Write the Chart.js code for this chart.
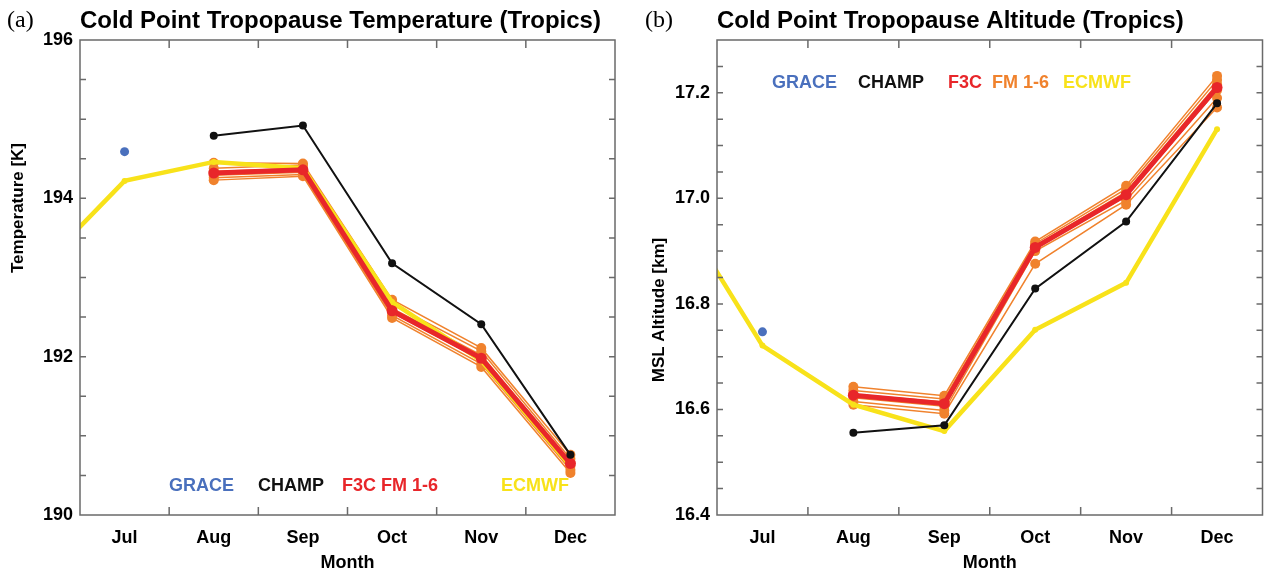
<!DOCTYPE html>
<html>
<head>
<meta charset="utf-8">
<script src="https://cdn.jsdelivr.net/npm/chart.js@4.4.1/dist/chart.umd.min.js"></script>
<style>
  html, body { margin: 0; padding: 0; background: #fff; }
  #wrap { position: relative; width: 1268px; height: 572px; }
  canvas { position: absolute; top: 0; }
  #tempChart { left: 0; }
  #altChart { left: 634px; }
</style>
</head>
<body>
<div id="wrap">
  <canvas id="tempChart" width="634" height="572"></canvas>
  <canvas id="altChart" width="634" height="572"></canvas>
</div>
<script>
// month positions (Jul = 0); June only feeds the ECMWF segment entering from the left
const months = ['Jun', 'Jul', 'Aug', 'Sep', 'Oct', 'Nov', 'Dec'];
const monthPos = [-1, 0, 1, 2, 3, 4, 5];
const monthTicks = ['Jul', 'Aug', 'Sep', 'Oct', 'Nov', 'Dec'];

// (a) cold point temperature [K]
const tempTicks = [190, 192, 194, 196];
const ecmwfTemp = [193.06, 194.22, 194.46, 194.38, 192.69, 191.95, 190.62];
const graceTemp = [null, 194.59, null, null, null, null, null];
const champTemp = [null, null, 194.79, 194.92, 193.18, 192.41, 190.76];
const f3cTemp   = [null, null, 194.32, 194.36, 192.58, 191.98, 190.65];
const fm1Temp = [null, null, 194.45, 194.44, 192.72, 192.11, 190.76];
const fm2Temp = [null, null, 194.38, 194.42, 192.66, 192.07, 190.71];
const fm3Temp = [null, null, 194.34, 194.38, 192.61, 192.02, 190.67];
const fm4Temp = [null, null, 194.29, 194.33, 192.56, 191.96, 190.62];
const fm5Temp = [null, null, 194.26, 194.30, 192.52, 191.91, 190.57];
const fm6Temp = [null, null, 194.23, 194.28, 192.49, 191.87, 190.53];

// (b) cold point altitude [km]
const altTicks = [16.4, 16.6, 16.8, 17.0, 17.2];
const ecmwfAlt = [17.00, 16.721, 16.609, 16.559, 16.751, 16.840, 17.131];
const graceAlt = [null, 16.747, null, null, null, null, null];
const champAlt = [null, null, 16.556, 16.570, 16.829, 16.956, 17.180];
const f3cAlt   = [null, null, 16.627, 16.611, 16.907, 17.007, 17.210];
const fm1Alt = [null, null, 16.643, 16.626, 16.918, 17.024, 17.232];
const fm2Alt = [null, null, 16.636, 16.620, 16.914, 17.018, 17.224];
const fm3Alt = [null, null, 16.629, 16.614, 16.910, 17.012, 17.216];
const fm4Alt = [null, null, 16.622, 16.606, 16.905, 17.004, 17.205];
const fm5Alt = [null, null, 16.615, 16.598, 16.900, 16.996, 17.190];
const fm6Alt = [null, null, 16.609, 16.592, 16.876, 16.988, 17.172];

const COLORS = {
    grace: '#4a70bd',
    champ: '#111111',
    f3c: '#e8262a',
    fm: '#f0822d',
    ecmwf: '#f8e21a',
    frame: '#6a6a6a'
};
const FONT = "'Liberation Sans', Arial, sans-serif";

// pair month positions with values, skipping empty months
const toPoints = (values) => values
    .map((v, i) => (v === null ? null : { x: monthPos[i], y: v }))
    .filter(p => p !== null);

function buildDatasets(s) {
    const fm = s.fm.map(values => ({
        data: toPoints(values),
        borderColor: COLORS.fm,
        backgroundColor: COLORS.fm,
        borderWidth: 1.5,
        pointRadius: 5,
        pointBorderWidth: 0
    }));
    // first dataset is painted on top
    return [
        { data: toPoints(s.grace), showLine: false, backgroundColor: COLORS.grace, borderColor: COLORS.grace, pointRadius: 4.5, pointBorderWidth: 0 },
        { data: toPoints(s.champ), borderColor: COLORS.champ, backgroundColor: COLORS.champ, borderWidth: 2, pointRadius: 4, pointBorderWidth: 0 },
        { data: toPoints(s.f3c), borderColor: COLORS.f3c, backgroundColor: COLORS.f3c, borderWidth: 5, pointRadius: 5.5, pointBorderWidth: 0 },
        { data: toPoints(s.ecmwf), borderColor: COLORS.ecmwf, backgroundColor: COLORS.ecmwf, borderWidth: 4.5, pointRadius: 3, pointBorderWidth: 0 },
        ...fm
    ];
}

// frame, inward ticks, panel title, y title and coloured legend words
const decorPlugin = {
    id: 'decor',
    afterDraw(chart, args, opts) {
        const { ctx, chartArea: a, scales: { x, y } } = chart;
        ctx.save();
        ctx.strokeStyle = COLORS.frame;
        ctx.lineWidth = 1.5;
        ctx.strokeRect(a.left, a.top, a.right - a.left, a.bottom - a.top);

        ctx.beginPath();
        for (let m = 0.5; m < 5; m += 1) {
            const px = x.getPixelForValue(m);
            ctx.moveTo(px, a.bottom); ctx.lineTo(px, a.bottom - 8);
            ctx.moveTo(px, a.top); ctx.lineTo(px, a.top + 8);
        }
        const n = Math.round((opts.yMax - opts.yMin) / opts.minor);
        for (let i = 1; i < n; i++) {
            const py = y.getPixelForValue(opts.yMin + i * opts.minor);
            ctx.moveTo(a.left, py); ctx.lineTo(a.left + 6, py);
            ctx.moveTo(a.right, py); ctx.lineTo(a.right - 6, py);
        }
        ctx.stroke();

        ctx.fillStyle = '#000';
        ctx.textBaseline = 'middle';
        ctx.font = `24px 'Liberation Serif', 'Times New Roman', serif`;
        ctx.fillText(opts.tag, opts.tagX, 21);
        ctx.font = `bold 24px ${FONT}`;
        ctx.fillText(opts.title, a.left, 21);

        // y axis title sits above the middle of the axis
        ctx.save();
        ctx.translate(opts.yTitleX, opts.yTitleY);
        ctx.rotate(-Math.PI / 2);
        ctx.textAlign = 'center';
        ctx.font = `bold 17px ${FONT}`;
        ctx.fillText(opts.yTitle, 0, 0);
        ctx.restore();

        ctx.font = `bold 18px ${FONT}`;
        opts.legend.forEach(item => {
            ctx.fillStyle = item.color;
            ctx.fillText(item.text, a.left + item.dx, a.top + item.dy);
        });
        ctx.restore();
    }
};

function makePanel(canvasId, p) {
    const ctx = document.getElementById(canvasId).getContext('2d');
    return new Chart(ctx, {
        type: 'line',
        data: { datasets: buildDatasets(p.series) },
        options: {
            responsive: false,
            animation: false,
            devicePixelRatio: 1,
            layout: { padding: { top: 40, right: p.padRight, left: 0, bottom: 0 } },
            plugins: {
                legend: { display: false },
                tooltip: { enabled: false },
                decor: p.decor
            },
            scales: {
                x: {
                    type: 'linear',
                    min: -0.5,
                    max: 5.5,
                    afterBuildTicks: (scale) => {
                        scale.ticks = monthTicks.map((_, i) => ({ value: i }));
                    },
                    afterFit: (scale) => { scale.height = 57; },
                    ticks: {
                        autoSkip: false,
                        maxRotation: 0,
                        padding: 12,
                        color: '#000',
                        font: { family: FONT, size: 18, weight: 'bold' },
                        callback: (value, index) => monthTicks[index]
                    },
                    grid: { display: false, drawTicks: false },
                    border: { display: false },
                    title: {
                        display: true,
                        text: 'Month',
                        color: '#000',
                        padding: 0,
                        font: { family: FONT, size: 18, weight: 'bold', lineHeight: 1 }
                    }
                },
                y: {
                    type: 'linear',
                    min: p.yMin,
                    max: p.yMax,
                    afterBuildTicks: (scale) => {
                        scale.ticks = p.yTicks.map(v => ({ value: v }));
                    },
                    afterFit: (scale) => { scale.width = p.yWidth; },
                    ticks: {
                        padding: 7,
                        color: '#000',
                        font: { family: FONT, size: 18, weight: 'bold' },
                        callback: p.yFormat
                    },
                    grid: { display: false, drawTicks: false },
                    border: { display: false }
                }
            }
        },
        plugins: [decorPlugin]
    });
}

makePanel('tempChart', {
    series: { grace: graceTemp, champ: champTemp, f3c: f3cTemp, ecmwf: ecmwfTemp,
              fm: [fm1Temp, fm2Temp, fm3Temp, fm4Temp, fm5Temp, fm6Temp] },
    yMin: 190, yMax: 196, yTicks: tempTicks,
    yFormat: (v) => String(v),
    yWidth: 80,
    padRight: 19,
    decor: {
        tag: '(a)', tagX: 7,
        title: 'Cold Point Tropopause Temperature (Tropics)',
        yTitle: 'Temperature [K]', yTitleX: 18, yTitleY: 208,
        yMin: 190, yMax: 196, minor: 0.5,
        legend: [
            { text: 'GRACE', color: COLORS.grace, dx: 89, dy: 446 },
            { text: 'CHAMP', color: COLORS.champ, dx: 178, dy: 446 },
            { text: 'F3C FM 1-6', color: COLORS.f3c, dx: 262, dy: 446 },
            { text: 'ECMWF', color: COLORS.ecmwf, dx: 421, dy: 446 }
        ]
    }
});

makePanel('altChart', {
    series: { grace: graceAlt, champ: champAlt, f3c: f3cAlt, ecmwf: ecmwfAlt,
              fm: [fm1Alt, fm2Alt, fm3Alt, fm4Alt, fm5Alt, fm6Alt] },
    yMin: 16.4, yMax: 17.3, yTicks: altTicks,
    yFormat: (v) => v.toFixed(1),
    yWidth: 83,
    padRight: 5,
    decor: {
        tag: '(b)', tagX: 11,
        title: 'Cold Point Tropopause Altitude (Tropics)',
        yTitle: 'MSL Altitude [km]', yTitleX: 25, yTitleY: 310,
        yMin: 16.4, yMax: 17.3, minor: 0.05,
        legend: [
            { text: 'GRACE', color: COLORS.grace, dx: 55, dy: 43 },
            { text: 'CHAMP', color: COLORS.champ, dx: 141, dy: 43 },
            { text: 'F3C', color: COLORS.f3c, dx: 231, dy: 43 },
            { text: 'FM 1-6', color: COLORS.fm, dx: 275, dy: 43 },
            { text: 'ECMWF', color: COLORS.ecmwf, dx: 346, dy: 43 }
        ]
    }
});
</script>
</body>
</html>
